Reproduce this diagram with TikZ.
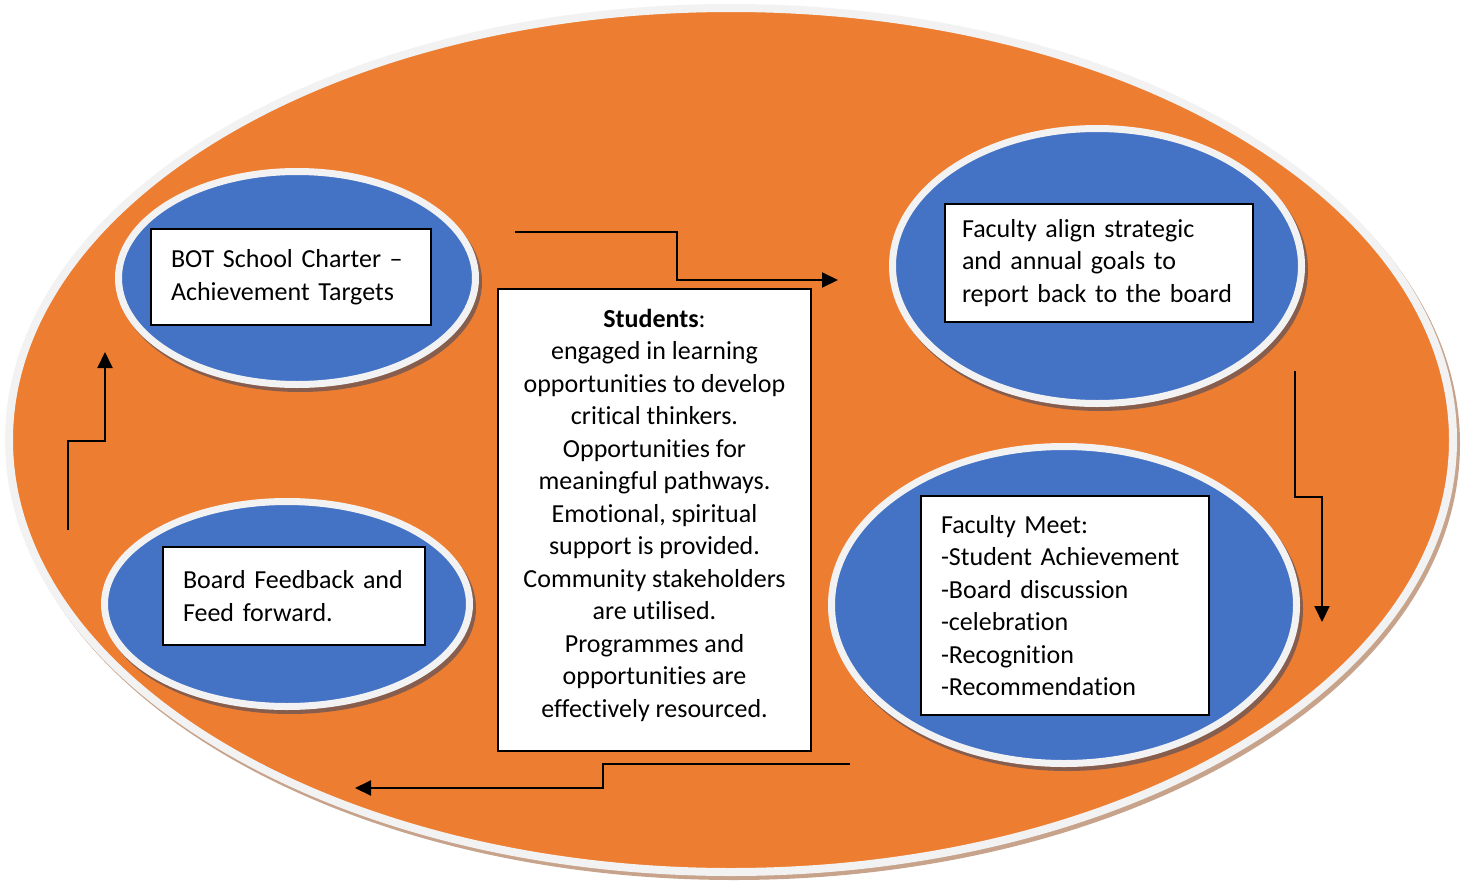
\documentclass[tikz,border=0pt]{standalone}
\usepackage{fontspec}
\setmainfont{Carlito}[Ligatures=NoCommon]
\usepackage{tikz}
\usetikzlibrary{shapes.geometric,arrows.meta,calc}
\definecolor{orangefill}{HTML}{ED7D31}
\definecolor{bluefill}{HTML}{4472C4}
\definecolor{ringgray}{HTML}{F2F2F2}
\definecolor{darkshade}{HTML}{875E4E}
\definecolor{lightshade}{HTML}{C8A38B}

\begin{document}
\begin{tikzpicture}[x=1pt,y=1pt,
  every node/.style={inner sep=0pt,font=\fontsize{26}{32.5}\selectfont},
  outerring/.style={ellipse,fill=orangefill,draw=ringgray,line width=8pt,
    preaction={draw=lightshade,fill=lightshade,transform canvas={xshift=3pt,yshift=-4pt}}},
  ring/.style={ellipse,fill=bluefill,draw=ringgray,line width=7pt,
    preaction={draw=darkshade,fill=darkshade,transform canvas={xshift=3pt,yshift=-4pt}}},
  textbox/.style={draw=black,fill=white,line width=2pt,inner xsep=20pt,align=left},
  flow/.style={black,line width=2pt,-{Triangle[length=16pt,width=15pt]}}]
\useasboundingbox (0,0) rectangle (1465,-881);
\node[outerring,minimum width=1444,minimum height=864] (outer) at (731,-440) {};
\node[ring,minimum width=357,minimum height=213] (botE) at (297,-278) {};
\node[ring,minimum width=365,minimum height=205] (fbE) at (287,-604) {};
\node[ring,minimum width=409,minimum height=275] (alignE) at (1097,-266) {};
\node[ring,minimum width=465,minimum height=317] (meetE) at (1064,-605) {};
\node[textbox,text width=240,minimum height=96] (bot) at (291,-277)
  {BOT School Charter --\\Achievement Targets};
\node[textbox,text width=222,minimum height=98] (fb) at (294,-596)
  {Board Feedback and\\Feed forward.};
\node[textbox,text width=274,inner xsep=17pt,minimum height=118] (align) at (1099,-263)
  {Faculty align strategic\\and annual goals to\\report back to the board};
\node[textbox,text width=248,minimum height=219] (meet) at (1065,-605.5)
  {Faculty Meet:\\-Student Achievement\\-Board discussion\\-celebration\\-Recognition\\-Recommendation};
\node[textbox,minimum width=313,minimum height=462] (stu) at (654.5,-520) {};
\node[align=center] (stuText) at (654.5,-515)
  {\textbf{Students}:\\engaged in learning\\opportunities to develop\\critical thinkers.\\Opportunities for\\meaningful pathways.\\Emotional, spiritual\\support is provided.\\Community stakeholders\\are utilised.\\Programmes and\\opportunities are\\effectively resourced.};
\coordinate (topS) at (515,-232);
\coordinate (topE) at (838,-280);
\coordinate (rgtS) at (1295,-371);
\coordinate (rgtE) at (1322,-622);
\coordinate (botS) at (850,-764);
\coordinate (botT) at (355,-788);
\coordinate (lftS) at (68,-530);
\coordinate (lftE) at (105,-352);
\draw[flow] (topS) -| ($(topS)!.5!(topE)$) |- (topE);
\draw[flow] (rgtS) |- ($(rgtS)!.5!(rgtE)$) -| (rgtE);
\draw[flow] (botS) -| ($(botS)!.5!(botT)$) |- (botT);
\draw[flow] (lftS) |- ($(lftS)!.5!(lftE)$) -| (lftE);
\end{tikzpicture}
\end{document}
